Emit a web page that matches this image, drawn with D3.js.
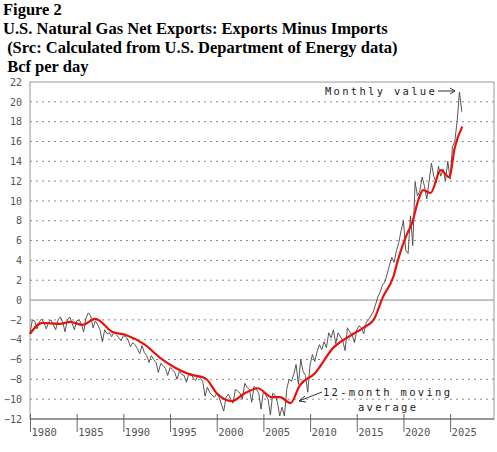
<!DOCTYPE html>
<html><head><meta charset="utf-8">
<script src="https://cdn.jsdelivr.net/npm/d3@7"></script>
<style>body{margin:0;background:#fff}</style>
</head><body>
<svg id="c" width="497" height="452"></svg>
<script>
// quarterly samples of the monthly series, by year (chart year axis)
const monthlyYears = d3.range(1980, 2027);
const monthlyValues = [
[-3.4,-2.0,-2.1,-2.9],[-2.2,-1.9,-2.3,-2.9],[-2.2,-2.0,-2.5,-3.0],[-2.0,-1.7,-2.2,-3.2],
[-2.0,-1.7,-2.3,-3.0],[-2.1,-2.0,-2.4,-3.2],[-1.8,-1.3,-1.6,-2.8],[-2.1,-2.5,-3.0,-4.2],
[-3.0,-3.4,-3.3,-3.7],[-3.2,-3.5,-3.8,-4.1],[-3.6,-3.7,-4.0,-4.7],[-4.3,-4.5,-4.9,-5.4],
[-4.6,-5.3,-5.6,-6.3],[-5.6,-6.0,-6.3,-7.3],[-6.4,-6.6,-6.9,-7.6],[-6.8,-7.0,-7.3,-8.0],
[-7.2,-7.5,-7.6,-8.3],[-7.5,-7.4,-7.9,-8.1],[-7.6,-7.9,-8.2,-9.7],[-8.8,-9.3,-9.6,-9.8],
[-9.4,-9.8,-10.5,-11.2],[-9.8,-9.5,-10.0,-10.4],[-9.0,-9.2,-9.4,-10.0],[-8.4,-8.8,-9.0,-10.3],
[-8.7,-9.0,-9.4,-11.0],[-9.2,-9.6,-10.0,-11.6],[-9.4,-9.6,-10.3,-11.7],[-10.8,-11.7,-9.0,-8.0],
[-8.2,-7.5,-6.5,-8.5],[-6.0,-7.2,-7.6,-9.3],[-6.5,-5.5,-6.2,-5.2],[-4.5,-5.0,-4.2,-4.8],
[-3.3,-3.8,-3.0,-4.4],[-3.3,-3.7,-4.1,-5.1],[-2.8,-3.2,-3.5,-4.3],[-3.0,-2.6,-2.8,-3.4],
[-2.3,-2.0,-1.6,-1.2],[-0.5,0.3,0.8,1.5],[1.8,2.6,3.5,4.3],[3.8,5.0,5.8,7.0],
[8.0,5.0,4.7,8.5],[5.5,11.9,10.5,11.0],[12.4,11.5,10.2,12.0],[13.8,12.5,11.8,13.5],
[12.5,13.2,12.0,14.0],[12.2,15.5,16.0,18.0],[21.0,19.0]
];
const avgYears = [1980,1981.3,1983.2,1984.3,1985.6,1987,1988.8,1990.2,1992.3,1993.9,1995.5,1997.1,1998.8,2000,2001.6,2003,2004.4,2005.9,2006.8,2007.9,2008.9,2010.5,2012.5,2014.3,2015.7,2016.8,2017.8,2018.9,2019.4,2020.4,2020.9,2021.6,2022.1,2022.9,2024,2024.9,2025.5,2026.3];
const avgValues = [-3.4,-2.3,-2.4,-2.2,-2.5,-1.9,-3.2,-3.5,-4.5,-5.8,-6.8,-7.5,-7.9,-9.4,-10.2,-9.4,-8.9,-9.8,-9.8,-10.4,-8.6,-7.4,-4.8,-3.6,-2.8,-2.0,0.3,2.3,4.0,6.7,7.7,10.1,11.1,10.8,13.1,12.4,15.4,17.5];
const xTicks = [1980,1985,1990,1995,2000,2005,2010,2015,2020,2025];
const yTicks = d3.range(-12, 23, 2);

const monthly = [];
monthlyValues.forEach((q, i) => q.forEach((v, j) => monthly.push([monthlyYears[i] + j/4, v])));
const avg = avgYears.map((y, i) => [y, avgValues[i]]);

const svg = d3.select("#c");
const L = 30, R = 494, T = 82, B = 419;
const x = d3.scaleLinear().domain([1980, 2029.7]).range([L, R]);
const y = d3.scaleLinear().domain([-12, 22]).range([B, T]);
const mono = "DejaVu Sans Mono, monospace";

const titles = ["Figure 2","U.S. Natural Gas Net Exports: Exports Minus Imports"," (Src: Calculated from U.S. Department of Energy data)"," Bcf per day"];
titles.forEach((t, i) => svg.append("text").attr("x", 3).attr("y", 15 + i*19)
  .attr("font-family", "Liberation Serif, serif").attr("font-weight", "bold").attr("font-size", 16.5)
  .attr("xml:space","preserve").style("white-space","pre").text(t));

yTicks.forEach(v => {
  if (v === -12 || v === 22) return;
  svg.append("line").attr("x1", L).attr("x2", R).attr("y1", y(v)).attr("y2", y(v))
    .attr("stroke", "#888").attr("stroke-width", 1)
    .attr("stroke-dasharray", v === 0 ? null : "2,4");
});
svg.append("rect").attr("x", L).attr("y", T).attr("width", R-L).attr("height", B-T)
  .attr("fill","none").attr("stroke","#999");
svg.append("line").attr("x1",L).attr("x2",R).attr("y1",B).attr("y2",B).attr("stroke","#666");

const yAxis = svg.append("g").attr("transform", `translate(${L},0)`)
  .call(d3.axisLeft(y).tickValues(yTicks).tickSize(0).tickPadding(8));
yAxis.select(".domain").remove();
yAxis.selectAll("text").attr("font-family", mono).attr("font-size", 10).attr("fill", "#555");

const xAxis = svg.append("g").attr("transform", `translate(0,${B-5})`)
  .call(d3.axisBottom(x).tickValues(xTicks).tickSize(18).tickFormat(d3.format("d")));
xAxis.select(".domain").remove();
xAxis.selectAll("line").attr("stroke","#666");
xAxis.selectAll("text").attr("font-family", mono).attr("font-size", 10.5).attr("fill", "#555")
  .attr("text-anchor","start").attr("dx", 1).attr("y", 15);

svg.append("path").datum(monthly).attr("fill","none").attr("stroke","#444").attr("stroke-width",0.9)
  .attr("d", d3.line().x(d => x(d[0])).y(d => y(d[1])));
svg.append("path").datum(avg).attr("fill","none").attr("stroke","#e8120c").attr("stroke-width",2.2)
  .attr("d", d3.line().curve(d3.curveMonotoneX).x(d => x(d[0])).y(d => y(d[1])));

const ann = (t, xx, yy) => svg.append("text").attr("x", xx).attr("y", yy).attr("font-family", mono)
  .attr("font-size", 10.5).attr("letter-spacing", 2.3).attr("fill","#222").text(t);
ann("Monthly value", 325, 95);
svg.append("path").attr("d","M438,91 H455 M450,88 L455,91 L450,94").attr("stroke","#333").attr("fill","none");
ann("12-month moving", 323, 396);
ann("average", 358, 411);
svg.append("line").attr("x1",322).attr("y1",392).attr("x2",299).attr("y2",401).attr("stroke","#333");
svg.append("path").attr("d","M299,401 l6,-5 M299,401 l7,1").attr("stroke","#333").attr("fill","none");
</script>
</body></html>
